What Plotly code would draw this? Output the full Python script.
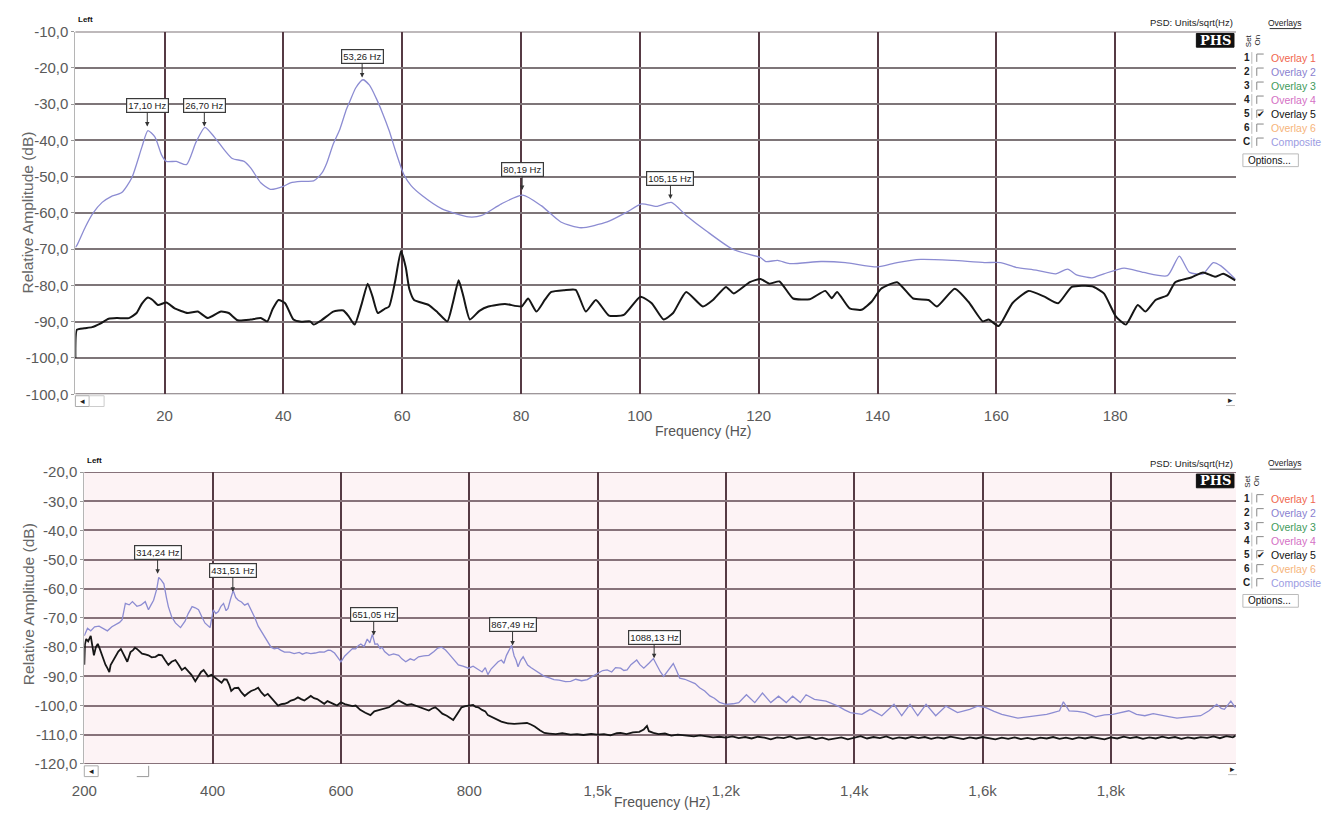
import plotly.graph_objects as go

W, H = 1335, 813


def px(x):
    return x / W


def py(y):
    return 1 - y / H


# ---------------- DATA ----------------
# Top panel (0-200 Hz)
top_blue_freq = [5.0, 5.3, 6.7, 8.0, 9.5, 11.0, 12.8, 14.5, 16.2, 17.2, 18.4, 19.5, 20.3, 22.0, 23.7,
                 25.3, 26.8, 28.4, 30.1, 31.4, 33.4, 34.5, 36.2, 37.8, 40.1, 41.2, 43.0, 45.1, 46.5,
                 47.3, 48.4, 49.5, 50.6, 51.2, 52.2, 53.4, 54.5, 55.6, 56.7, 57.8, 59.0, 60.3, 61.5,
                 63.4, 66.7, 71.2, 73.4, 76.7, 80.3, 83.4, 86.7, 90.1, 94.5, 97.8, 100.3, 102.8,
                 105.3, 107.8, 111.2, 115.7, 120.3, 121.2, 123.2, 125.2, 130.5, 134.6, 140.0, 143.3,
                 147.3, 152.7, 158.0, 160.7, 163.3, 166.7, 170.0, 172.0, 173.4, 176.1, 178.1, 181.5,
                 184.8, 188.8, 190.8, 192.5, 194.8, 196.5, 197.8, 200.2]
top_blue_db = [-69.5, -68.8, -63.8, -60.0, -57.1, -55.5, -54.4, -50.3, -41.8, -37.3, -39.1, -44.0,
               -45.8, -45.8, -46.7, -40.5, -36.4, -39.1, -42.7, -45.0, -45.8, -47.6, -51.7, -53.5,
               -52.6, -51.7, -51.3, -51.2, -49.0, -46.3, -41.0, -37.0, -31.5, -29.2, -25.5, -23.3,
               -24.8, -28.3, -32.5, -37.3, -43.5, -49.5, -52.5, -55.3, -58.9, -61.1, -60.7, -57.5,
               -55.1, -58.0, -62.5, -64.1, -62.5, -59.8, -57.5, -58.2, -57.1, -60.7, -65.0, -70.1,
               -72.3, -73.4, -73.1, -74.0, -73.4, -73.7, -74.9, -73.7, -72.8, -73.1, -73.7, -73.7,
               -75.0, -75.8, -76.8, -75.5, -77.0, -77.9, -76.8, -75.2, -76.4, -77.3, -71.9, -76.4,
               -76.8, -73.7, -74.6, -78.2]

top_black_freq = [5.0, 5.25, 6.5, 7.8, 9.2, 10.6, 12.0, 14.0, 15.3, 16.2, 17.2, 18.0, 18.9, 20.3,
                  21.7, 23.9, 25.6, 27.3, 29.5, 30.8, 32.3, 34.5, 36.2, 37.3, 38.2, 39.2, 40.3,
                  41.7, 43.0, 44.5, 45.1, 46.5, 48.4, 50.1, 51.0, 52.0, 53.2, 54.2, 55.0, 55.9,
                  57.0, 57.8, 58.8, 59.8, 60.6, 61.2, 62.0, 64.5, 66.0, 67.6, 68.5, 69.5, 70.3,
                  71.4, 73.0, 74.5, 77.3, 80.1, 81.2, 82.6, 84.0, 85.1, 87.3, 89.2, 90.9, 92.6,
                  94.8, 97.3, 100.1, 102.0, 104.0, 105.6, 107.8, 110.6, 112.3, 114.5, 115.8, 118.5,
                  120.3, 121.8, 123.5, 125.8, 128.6, 131.2, 132.3, 133.2, 135.3, 137.3, 139.0,
                  140.6, 143.3, 146.0, 148.6, 150.0, 153.0, 155.3, 157.7, 158.7, 160.4, 162.7,
                  165.4, 168.1, 170.4, 172.7, 176.1, 178.1, 180.1, 181.8, 183.8, 185.1, 186.8,
                  188.8, 190.1, 192.8, 194.8, 196.8, 198.2, 200.2]
top_black_db = [-100.0, -92.2, -91.8, -91.5, -90.5, -89.2, -89.0, -89.0, -87.6, -85.0, -83.3, -84.0,
                -85.4, -84.7, -86.3, -87.6, -87.2, -89.0, -87.2, -87.6, -89.6, -89.4, -89.0, -89.9,
                -86.5, -84.0, -84.9, -89.4, -90.0, -89.9, -90.8, -89.5, -87.2, -86.9, -88.5, -90.8,
                -85.0, -79.5, -83.0, -87.6, -86.5, -85.8, -79.0, -70.5, -75.0, -81.0, -84.0, -85.4,
                -87.5, -89.9, -85.0, -78.6, -83.0, -89.4, -87.0, -85.8, -85.1, -85.8, -83.6, -87.2,
                -84.0, -81.8, -81.3, -81.2, -87.2, -84.0, -88.3, -88.1, -83.1, -84.9, -89.4, -87.6,
                -81.8, -85.8, -84.0, -80.4, -82.2, -79.1, -78.2, -79.5, -78.9, -83.6, -83.8, -81.5,
                -83.5, -81.8, -86.3, -86.7, -84.5, -80.9, -79.1, -83.6, -84.0, -85.8, -80.9, -84.5,
                -89.9, -89.4, -91.2, -84.9, -81.5, -83.1, -84.9, -80.4, -80.2, -82.2, -88.5, -90.8,
                -85.4, -87.2, -84.0, -82.7, -79.1, -77.8, -76.4, -77.6, -76.8, -78.6]

top_peak_freq = [17.10, 26.70, 53.26, 80.19, 105.15]
top_peak_db = [-36.2, -36.2, -22.7, -53.7, -56.2]
top_peak_text = ["17,10 Hz", "26,70 Hz", "53,26 Hz", "80,19 Hz", "105,15 Hz"]

top_xtick_vals = [20, 40, 60, 80, 100, 120, 140, 160, 180]
top_xtick_text = ["20", "40", "60", "80", "100", "120", "140", "160", "180"]
top_ytick_vals = [-10, -20, -30, -40, -50, -60, -70, -80, -90, -100, -110]
top_ytick_text = ["-10,0", "-20,0", "-30,0", "-40,0", "-50,0", "-60,0", "-70,0", "-80,0",
                  "-90,0", "-100,0", "-100,0"]

# Bottom panel (200-2000 Hz)
bot_blue_freq = [200, 205, 210, 216, 223, 230, 236, 243, 249, 255, 259, 264, 270, 275, 282, 288,
                 295, 300, 304, 308, 313, 316, 320, 324, 328, 331, 336, 342, 350, 357, 362, 368,
                 373, 378, 383, 388, 396, 401, 405, 409, 413, 417, 421, 424, 428, 432, 436, 440,
                 445, 450, 455, 460, 466, 471, 478, 486, 491, 496, 501, 506, 512, 520, 527, 535,
                 540, 546, 553, 560, 567, 574, 580, 584, 590, 595, 600, 606, 613, 618, 623, 627,
                 631, 636, 641, 645, 649, 653, 657, 661, 664, 668, 675, 682, 690, 695, 701, 708,
                 714, 721, 729, 737, 745, 751, 757, 763, 768, 775, 783, 790, 799, 806, 814, 820,
                 825, 829, 834, 840, 845, 850, 854, 858, 862, 866, 870, 873, 876, 880, 884, 888,
                 891, 896, 902, 910, 917, 925, 932, 940, 950, 958, 966, 975, 984, 992, 1000, 1008,
                 1015, 1022, 1028, 1036, 1041, 1046, 1052, 1061, 1066, 1072, 1080, 1087, 1092,
                 1098, 1103, 1110, 1118, 1123, 1128, 1136, 1144, 1152, 1159, 1167, 1175, 1182,
                 1190, 1200, 1211, 1220, 1232, 1245, 1257, 1270, 1282, 1294, 1304, 1316, 1325,
                 1338, 1356, 1375, 1385, 1394, 1412, 1425, 1443, 1462, 1474, 1487, 1499, 1512,
                 1527, 1543, 1561, 1580, 1592, 1605, 1618, 1630, 1655, 1670, 1686, 1700, 1710,
                 1720, 1726, 1735, 1748, 1760, 1776, 1790, 1803, 1815, 1828, 1840, 1853, 1866,
                 1878, 1890, 1903, 1920, 1940, 1953, 1965, 1972, 1977, 1987, 1994]
bot_blue_db = [-76.1, -73.5, -74.4, -73.0, -72.8, -73.8, -74.4, -73.0, -72.2, -71.5, -70.6, -65.0,
               -65.5, -64.4, -66.0, -65.6, -64.4, -67.2, -65.5, -63.9, -60.0, -56.1, -57.0, -58.3,
               -63.0, -66.1, -69.5, -71.7, -73.3, -71.1, -68.5, -66.1, -66.5, -67.2, -69.5, -71.7,
               -73.3, -67.2, -68.5, -67.8, -66.0, -65.0, -67.5, -66.7, -63.5, -60.6, -63.0, -63.9,
               -64.5, -65.6, -65.0, -67.2, -70.0, -72.8, -75.5, -78.3, -80.0, -80.6, -80.3, -81.0,
               -81.7, -81.7, -82.2, -81.8, -82.4, -81.9, -82.2, -82.0, -81.6, -81.7, -81.0, -81.1,
               -82.0, -83.5, -85.0, -83.0, -81.7, -80.5, -80.6, -79.5, -78.9, -79.8, -77.2, -78.5,
               -75.6, -79.0, -78.9, -80.5, -80.0, -81.5, -82.8, -82.3, -82.8, -84.0, -85.0, -84.0,
               -84.5, -83.3, -83.0, -82.8, -81.5, -80.3, -80.0, -81.0, -82.2, -84.0, -86.1, -86.5,
               -87.2, -86.5, -87.8, -88.5, -87.0, -89.4, -87.5, -86.1, -85.0, -84.4, -85.5, -82.8,
               -81.0, -79.4, -83.0, -84.5, -86.7, -84.5, -83.3, -85.0, -86.1, -87.0, -87.8, -89.0,
               -90.0, -90.5, -91.1, -91.3, -91.8, -91.7, -91.0, -91.5, -91.1, -90.0, -88.9, -88.0,
               -87.8, -88.5, -87.0, -87.2, -88.0, -87.8, -86.0, -84.4, -86.0, -87.2, -85.5, -83.9,
               -86.0, -88.5, -90.0, -88.0, -85.6, -88.0, -90.6, -91.0, -91.7, -92.5, -93.9, -95.0,
               -96.7, -97.5, -98.9, -99.6, -99.4, -99.0, -96.3, -99.0, -95.7, -99.0, -96.8, -99.0,
               -96.8, -99.0, -96.3, -97.9, -98.5, -100.2, -101.5, -102.4, -103.0, -101.3, -103.5,
               -99.6, -103.5, -99.6, -103.5, -99.6, -103.5, -100.2, -102.4, -101.3, -100.2, -100.7,
               -102.0, -103.0, -104.3, -103.8, -103.5, -103.0, -102.4, -101.8, -98.7, -101.8,
               -102.0, -102.4, -103.9, -103.2, -103.0, -102.5, -101.8, -103.0, -103.5, -102.8,
               -103.2, -103.8, -104.3, -104.0, -103.5, -101.8, -99.6, -101.0, -101.3, -98.5, -100.7]

bot_black_freq = [200, 201, 203, 206, 210, 213, 215, 218, 221, 224, 226, 229, 233, 236, 239, 241,
                  245, 249, 253, 257, 261, 264, 267, 270, 272, 276, 279, 282, 286, 290, 295, 300,
                  305, 311, 316, 321, 326, 331, 336, 342, 347, 352, 357, 362, 367, 373, 378, 382,
                  386, 390, 393, 398, 404, 409, 414, 418, 422, 426, 429, 434, 440, 445, 450, 455,
                  460, 466, 471, 476, 481, 486, 491, 497, 502, 507, 512, 517, 522, 527, 533, 538,
                  543, 548, 553, 558, 563, 568, 574, 579, 584, 589, 594, 600, 606, 612, 618, 623,
                  630, 638, 646, 652, 660, 668, 675, 682, 690, 696, 703, 710, 716, 722, 730, 737,
                  742, 747, 752, 758, 765, 770, 775, 781, 788, 794, 800, 806, 810, 814, 820, 825,
                  829, 835, 842, 850, 860, 870, 881, 890, 896, 902, 910, 917, 925, 935, 945, 958,
                  968, 978, 990, 1000, 1010, 1020, 1030, 1036, 1045, 1055, 1065, 1072, 1077, 1080,
                  1087, 1095, 1105, 1115, 1125, 1139, 1150, 1160, 1170, 1180, 1190, 1200, 1210,
                  1220, 1230, 1240, 1250, 1260, 1270, 1280, 1290, 1300, 1310, 1320, 1330, 1340,
                  1350, 1360, 1370, 1380, 1390, 1400, 1410, 1420, 1430, 1440, 1450, 1460, 1470,
                  1480, 1490, 1500, 1510, 1520, 1530, 1540, 1550, 1560, 1570, 1580, 1590, 1600,
                  1610, 1620, 1630, 1640, 1650, 1660, 1670, 1680, 1690, 1700, 1710, 1720, 1730,
                  1740, 1750, 1760, 1770, 1780, 1790, 1800, 1810, 1820, 1830, 1840, 1850, 1860,
                  1870, 1880, 1890, 1900, 1910, 1920, 1930, 1940, 1950, 1960, 1970, 1980, 1990, 1994]
bot_black_db = [-86.0, -79.0, -77.2, -78.0, -76.1, -79.5, -82.8, -80.0, -78.9, -80.5, -81.7, -84.0,
                -86.0, -87.2, -88.5, -86.1, -84.5, -82.8, -81.5, -80.6, -82.5, -84.0, -85.0, -83.0,
                -81.7, -81.0, -80.2, -80.6, -81.5, -82.2, -82.5, -82.8, -83.5, -83.3, -82.6, -82.8,
                -84.5, -86.1, -85.0, -84.4, -86.0, -87.8, -87.0, -88.3, -89.5, -91.7, -90.0, -88.5,
                -87.8, -89.0, -90.0, -89.5, -90.6, -91.5, -92.2, -91.0, -91.1, -93.0, -95.0, -94.0,
                -93.9, -95.5, -96.7, -95.8, -95.0, -94.5, -93.9, -95.5, -96.7, -96.0, -97.2, -98.5,
                -100.0, -99.5, -99.4, -99.0, -98.3, -98.0, -97.2, -97.8, -98.3, -97.5, -96.7, -97.5,
                -97.8, -98.5, -99.4, -98.5, -98.9, -99.5, -100.0, -98.9, -99.5, -99.8, -100.2,
                -100.0, -101.5, -102.5, -103.3, -102.0, -101.5, -100.8, -100.6, -99.5, -98.3, -99.0,
                -99.8, -99.5, -100.0, -100.5, -101.2, -101.7, -101.0, -100.6, -101.5, -102.8,
                -103.5, -104.2, -105.0, -103.0, -100.6, -100.2, -100.0, -99.8, -100.5, -100.6,
                -101.5, -102.0, -103.3, -104.0, -104.8, -105.5, -106.1, -106.3, -106.1, -106.0,
                -106.5, -107.2, -108.5, -109.4, -109.6, -109.8, -109.5, -110.0, -109.8, -110.1,
                -109.7, -110.0, -109.8, -110.2, -109.5, -109.4, -109.8, -109.2, -109.0, -108.2,
                -107.0, -108.8, -109.4, -109.8, -109.6, -110.3, -110.0, -110.3, -110.6, -110.2,
                -110.5, -110.9, -110.7, -111.0, -110.6, -111.2, -110.8, -111.3, -110.7, -111.0,
                -111.6, -110.9, -111.2, -110.6, -111.4, -111.1, -110.8, -111.5, -111.0, -111.7,
                -111.2, -110.9, -111.6, -111.1, -110.5, -111.3, -110.8, -111.2, -110.6, -111.4,
                -110.9, -111.3, -110.7, -111.2, -110.8, -111.4, -110.9, -111.3, -110.7, -111.1,
                -111.5, -110.9, -111.3, -110.8, -111.2, -111.6, -111.0, -111.4, -110.9, -111.5,
                -111.1, -111.6, -111.0, -111.3, -110.8, -111.4, -111.0, -111.5, -110.9, -111.3,
                -110.8, -111.2, -111.6, -110.9, -111.3, -110.7, -111.2, -110.8, -111.4, -110.9,
                -111.3, -110.7, -111.2, -110.8, -111.4, -110.9, -111.3, -110.8, -111.1, -110.6,
                -111.2, -110.5, -110.9, -110.4]

bot_peak_freq = [314.24, 431.51, 651.05, 867.49, 1088.13]
bot_peak_db = [-54.8, -61.0, -76.0, -79.4, -83.8]
bot_peak_text = ["314,24 Hz", "431,51 Hz", "651,05 Hz", "867,49 Hz", "1088,13 Hz"]

bot_xtick_vals = [200, 400, 600, 800, 1000, 1200, 1400, 1600, 1800]
bot_xtick_text = ["200", "400", "600", "800", "1,5k", "1,2k", "1,4k", "1,6k", "1,8k"]
bot_ytick_vals = [-20, -30, -40, -50, -60, -70, -80, -90, -100, -110, -120]
bot_ytick_text = ["-20,0", "-30,0", "-40,0", "-50,0", "-60,0", "-70,0", "-80,0", "-90,0",
                  "-100,0", "-110,0", "-120,0"]

overlay_names = ["Overlay 1", "Overlay 2", "Overlay 3", "Overlay 4", "Overlay 5", "Overlay 6", "Composite"]
overlay_ids = ["1", "2", "3", "4", "5", "6", "C"]
overlay_checked = [False, False, False, False, True, False, False]

# ---------------- STYLE ----------------
FONT = "Liberation Sans, Arial, sans-serif"
BLUE = "#8c8cd2"
BLACK = "#161616"
HGRID = "#7e7578"
HGRID2 = "#87727a"
VGRID = "#563a44"
overlay_colors = ["#f0664e", "#8a7fd0", "#3f9b5c", "#d46fc4", "#111111", "#f6b47a", "#9c9ce2"]

fig = go.Figure()
fig.add_trace(go.Scatter(x=top_blue_freq, y=top_blue_db, mode="lines", xaxis="x", yaxis="y",
                         line=dict(color=BLUE, width=1.3, shape="spline", smoothing=0.6),
                         hoverinfo="skip"))
fig.add_trace(go.Scatter(x=top_black_freq, y=top_black_db, mode="lines", xaxis="x", yaxis="y",
                         line=dict(color=BLACK, width=2, shape="spline", smoothing=0.5),
                         hoverinfo="skip"))
fig.add_trace(go.Scatter(x=bot_blue_freq, y=bot_blue_db, mode="lines", xaxis="x2", yaxis="y2",
                         line=dict(color=BLUE, width=1.3), hoverinfo="skip"))
fig.add_trace(go.Scatter(x=bot_black_freq, y=bot_black_db, mode="lines", xaxis="x2", yaxis="y2",
                         line=dict(color=BLACK, width=1.8), hoverinfo="skip"))

shapes = []
annotations = []

# bottom plot pink background
shapes.append(dict(type="rect", xref="x2 domain", yref="y2 domain", x0=0, x1=1, y0=0, y1=1,
                   fillcolor="#fdf3f5", line=dict(width=0), layer="below"))

# edge gridlines
for v in (top_ytick_vals[0], top_ytick_vals[-1]):
    shapes.append(dict(type="line", xref="x domain", yref="y", x0=0, x1=1, y0=v, y1=v,
                       line=dict(color=HGRID, width=2), layer="below"))
for v in (bot_ytick_vals[0], bot_ytick_vals[-1]):
    shapes.append(dict(type="line", xref="x2 domain", yref="y2", x0=0, x1=1, y0=v, y1=v,
                       line=dict(color=HGRID2, width=2), layer="below"))

LABEL_OFFSET = -21


def peak_annotations(freqs, dbs, texts, xr, yr):
    for f, d, t in zip(freqs, dbs, texts):
        annotations.append(dict(x=f, y=d, xref=xr, yref=yr, text=t, showarrow=True,
                                arrowhead=2, arrowsize=0.9, arrowwidth=1, arrowcolor="#333",
                                ax=0, ay=LABEL_OFFSET, standoff=0,
                                bgcolor="white", bordercolor="#3a3a3a", borderwidth=1.2,
                                borderpad=1, font=dict(family=FONT, size=9.5, color="#222")))


peak_annotations(top_peak_freq, top_peak_db, top_peak_text, "x", "y")
peak_annotations(bot_peak_freq, bot_peak_db, bot_peak_text, "x2", "y2")


def text(x, y, s, size=8.5, color="#222", xanchor="center", yanchor="middle", angle=0,
         family=FONT):
    annotations.append(dict(x=px(x), y=py(y), xref="paper", yref="paper", text=s,
                            showarrow=False, xanchor=xanchor, yanchor=yanchor, textangle=angle,
                            font=dict(family=family, size=size, color=color)))


def rect(x0, y0, x1, y1, fill="rgba(0,0,0,0)", line="#999", lw=1):
    shapes.append(dict(type="rect", xref="paper", yref="paper", x0=px(x0), x1=px(x1),
                       y0=py(y1), y1=py(y0), fillcolor=fill, line=dict(color=line, width=lw)))


def seg(x0, y0, x1, y1, color="#999", lw=1):
    shapes.append(dict(type="line", xref="paper", yref="paper", x0=px(x0), x1=px(x1),
                       y0=py(y0), y1=py(y1), line=dict(color=color, width=lw)))


def side_panel(dy, plot_left):
    text(plot_left + 1, 11 + dy, "<b>Left</b>", size=8, color="#111", xanchor="left")
    text(1234, 14 + dy, "PSD: Units/sqrt(Hz)", size=9.5, color="#222", xanchor="right")
    rect(1195, 25 + dy, 1233, 39 + dy, fill="#111", line="#111")
    text(1214, 32 + dy, "<b>PHS</b>", size=13, color="white",
         family="DejaVu Serif, Liberation Serif, serif")
    text(1285, 14 + dy, "Overlays", size=8.5, color="#222")
    seg(1269, 20 + dy, 1301, 20 + dy, color="#333", lw=1)
    text(1247, 32 + dy, "Set", size=8, color="#222", angle=-90)
    text(1256.5, 32 + dy, "On", size=8, color="#222", angle=-90)
    for i, (rid, name, col, chk) in enumerate(zip(overlay_ids, overlay_names, overlay_colors,
                                                  overlay_checked)):
        yy = 50 + dy + i * 14.3
        text(1246, yy, "<b>" + rid + "</b>", size=10, color="#222")
        seg(1251, yy - 6, 1251, yy + 6, color="#bbb", lw=1)
        seg(1256, yy - 4, 1263, yy - 4, color="#888", lw=1)
        seg(1256, yy - 4, 1256, yy + 4, color="#888", lw=1)
        if chk:
            text(1260, yy, "✔", size=9, color="#111")
        text(1268, yy, name, size=10.5, color=col, xanchor="left")
    rect(1242, 148 + dy, 1298, 161 + dy, fill="white", line="#bbb")
    text(1269, 154.5 + dy, "Options...", size=10, color="#111")


side_panel(0, 63)
side_panel(450, 72)

# axis titles
text(15, 208, "Relative Amplitude (dB)", size=15.5, color="#666", angle=-90)
text(15, 608, "Relative Amplitude (dB)", size=15.5, color="#666", angle=-90)
text(697, 431, "Frequency (Hz)", size=14, color="#555")
text(655, 810, "Frequency (Hz)", size=14, color="#555")

# scrollbar widgets
rect(63, 395, 77, 406, fill="white", line="#aaa")
text(70, 400.5, "◂", size=9, color="#222")
rect(77, 395, 92, 406, fill="white", line="#ccc")
text(1229, 399, "▸", size=9, color="#222")
seg(1225, 405, 1234, 405, color="#bbb")
rect(72, 773, 86, 784, fill="white", line="#aaa")
text(79, 778.5, "◂", size=9, color="#222")
seg(125, 784, 137, 784, color="#999")
seg(137, 773, 137, 784, color="#999")
text(1231, 776, "▸", size=9, color="#222")
seg(1227, 782, 1236, 782, color="#bbb")

axis_common = dict(showgrid=True, zeroline=False, tickfont=dict(family=FONT, size=15, color="#5a5a5a"))

fig.update_layout(
    width=W, height=H, margin=dict(l=0, r=0, t=0, b=0),
    paper_bgcolor="white", plot_bgcolor="white", showlegend=False,
    font=dict(family=FONT, color="#555"),
    xaxis=dict(domain=[px(63), px(1235)], range=[5.0, 200.33], anchor="y",
               tickmode="array", tickvals=top_xtick_vals, ticktext=top_xtick_text,
               gridcolor=VGRID, gridwidth=1.5, showline=False,
               ticks="outside", ticklen=8, tickcolor="rgba(0,0,0,0)", **axis_common),
    yaxis=dict(domain=[py(393.5), py(23)], range=[-110, -10], anchor="x",
               tickmode="array", tickvals=top_ytick_vals, ticktext=top_ytick_text,
               gridcolor=HGRID, gridwidth=2, showline=True, linecolor="#b5b5b5", linewidth=1,
               ticks="outside", ticklen=3, tickcolor="#999", **axis_common),
    xaxis2=dict(domain=[px(72), px(1235)], range=[200, 1995], anchor="y2",
                tickmode="array", tickvals=bot_xtick_vals, ticktext=bot_xtick_text,
                gridcolor=VGRID, gridwidth=1.5, showline=False,
                ticks="outside", ticklen=13, tickcolor="rgba(0,0,0,0)", **axis_common),
    yaxis2=dict(domain=[py(771), py(473)], range=[-120, -20], anchor="x2",
                tickmode="array", tickvals=bot_ytick_vals, ticktext=bot_ytick_text,
                gridcolor=HGRID2, gridwidth=2, showline=True, linecolor="#b5b5b5", linewidth=1,
                ticks="outside", ticklen=3, tickcolor="#999", **axis_common),
    shapes=shapes,
    annotations=annotations,
)

fig.write_html("out.html", post_script="document.body.style.margin='0px';")
